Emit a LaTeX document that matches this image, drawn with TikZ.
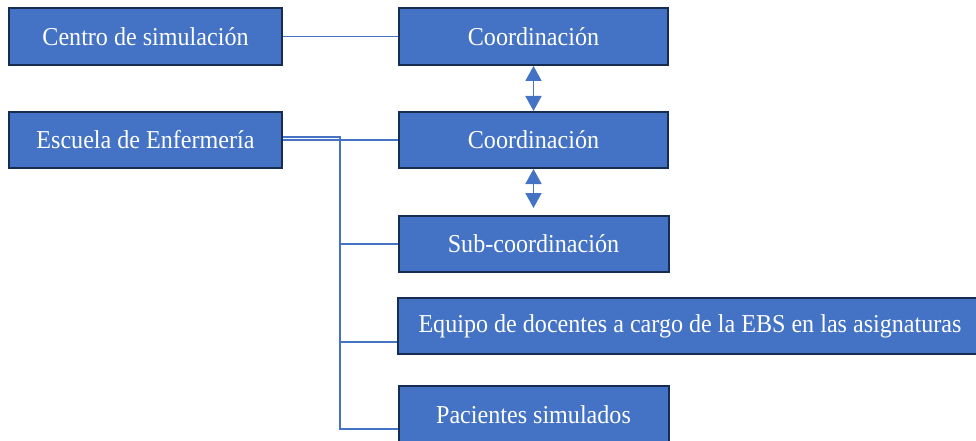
\documentclass[tikz,border=0pt]{standalone}
\usepackage{fontspec}
\usepackage{graphicx}
\setmainfont{Liberation Serif}
\usetikzlibrary{arrows.meta}
\definecolor{boxfill}{HTML}{4472C4}
\definecolor{boxline}{HTML}{172C51}
\definecolor{conncol}{HTML}{4472C4}
\newcommand{\stretchtxt}[1]{\scalebox{1}[1.07]{#1}}
\begin{document}
\begin{tikzpicture}[x=1pt,y=-1pt,
  orgbox/.style={draw=boxline, line width=2pt, fill=boxfill, text=white, inner sep=0pt,
    font=\fontsize{24.1}{28}\selectfont, anchor=center},
  conn/.style={draw=conncol, line width=1.7pt},
  dblarrow/.style={conn, {Triangle[width=16pt,length=15pt]}-{Triangle[width=16pt,length=15pt]}, fill=conncol}]
\useasboundingbox (0,0) rectangle (976,441);
\node[orgbox, minimum width=273pt, minimum height=57pt] (cs) at (145.5,36.5) {\stretchtxt{Centro de simulación}};
\node[orgbox, minimum width=269pt, minimum height=57pt] (c1) at (533.5,36.5) {\stretchtxt{Coordinación}};
\node[orgbox, minimum width=273pt, minimum height=56pt] (ee) at (145.5,140) {\stretchtxt{Escuela de Enfermería}};
\node[orgbox, minimum width=269pt, minimum height=56pt] (c2) at (533.5,140) {\stretchtxt{Coordinación}};
\node[orgbox, minimum width=270pt, minimum height=56pt] (sub) at (533.5,244) {\stretchtxt{Sub-coordinación}};
\node[orgbox, minimum width=584pt, minimum height=56pt] (eq) at (690,326) {\stretchtxt{Equipo de docentes a cargo de la EBS en las asignaturas}};
\node[orgbox, minimum width=270pt, minimum height=57pt] (pac) at (533.5,414.5) {\stretchtxt{Pacientes simulados}};
\coordinate (cs2) at (533.5,208);
% connectors
\draw[conn] (cs.east) -- (c1.west);
\draw[conn] (ee.east) -- (c2.west);
\coordinate (bus) at (340,137);
\draw[conn] (ee.east |- bus) -- (bus) -- (bus |- 0,429) -- (pac.west |- 0,429);
\draw[conn] (bus |- sub.west) -- (sub.west);
\draw[conn] (bus |- 0,342) -- (eq.west |- 0,342);
\draw[dblarrow] (c1.south) -- (c2.north);
\draw[dblarrow] (c2.south) -- (cs2);
\end{tikzpicture}
\end{document}
